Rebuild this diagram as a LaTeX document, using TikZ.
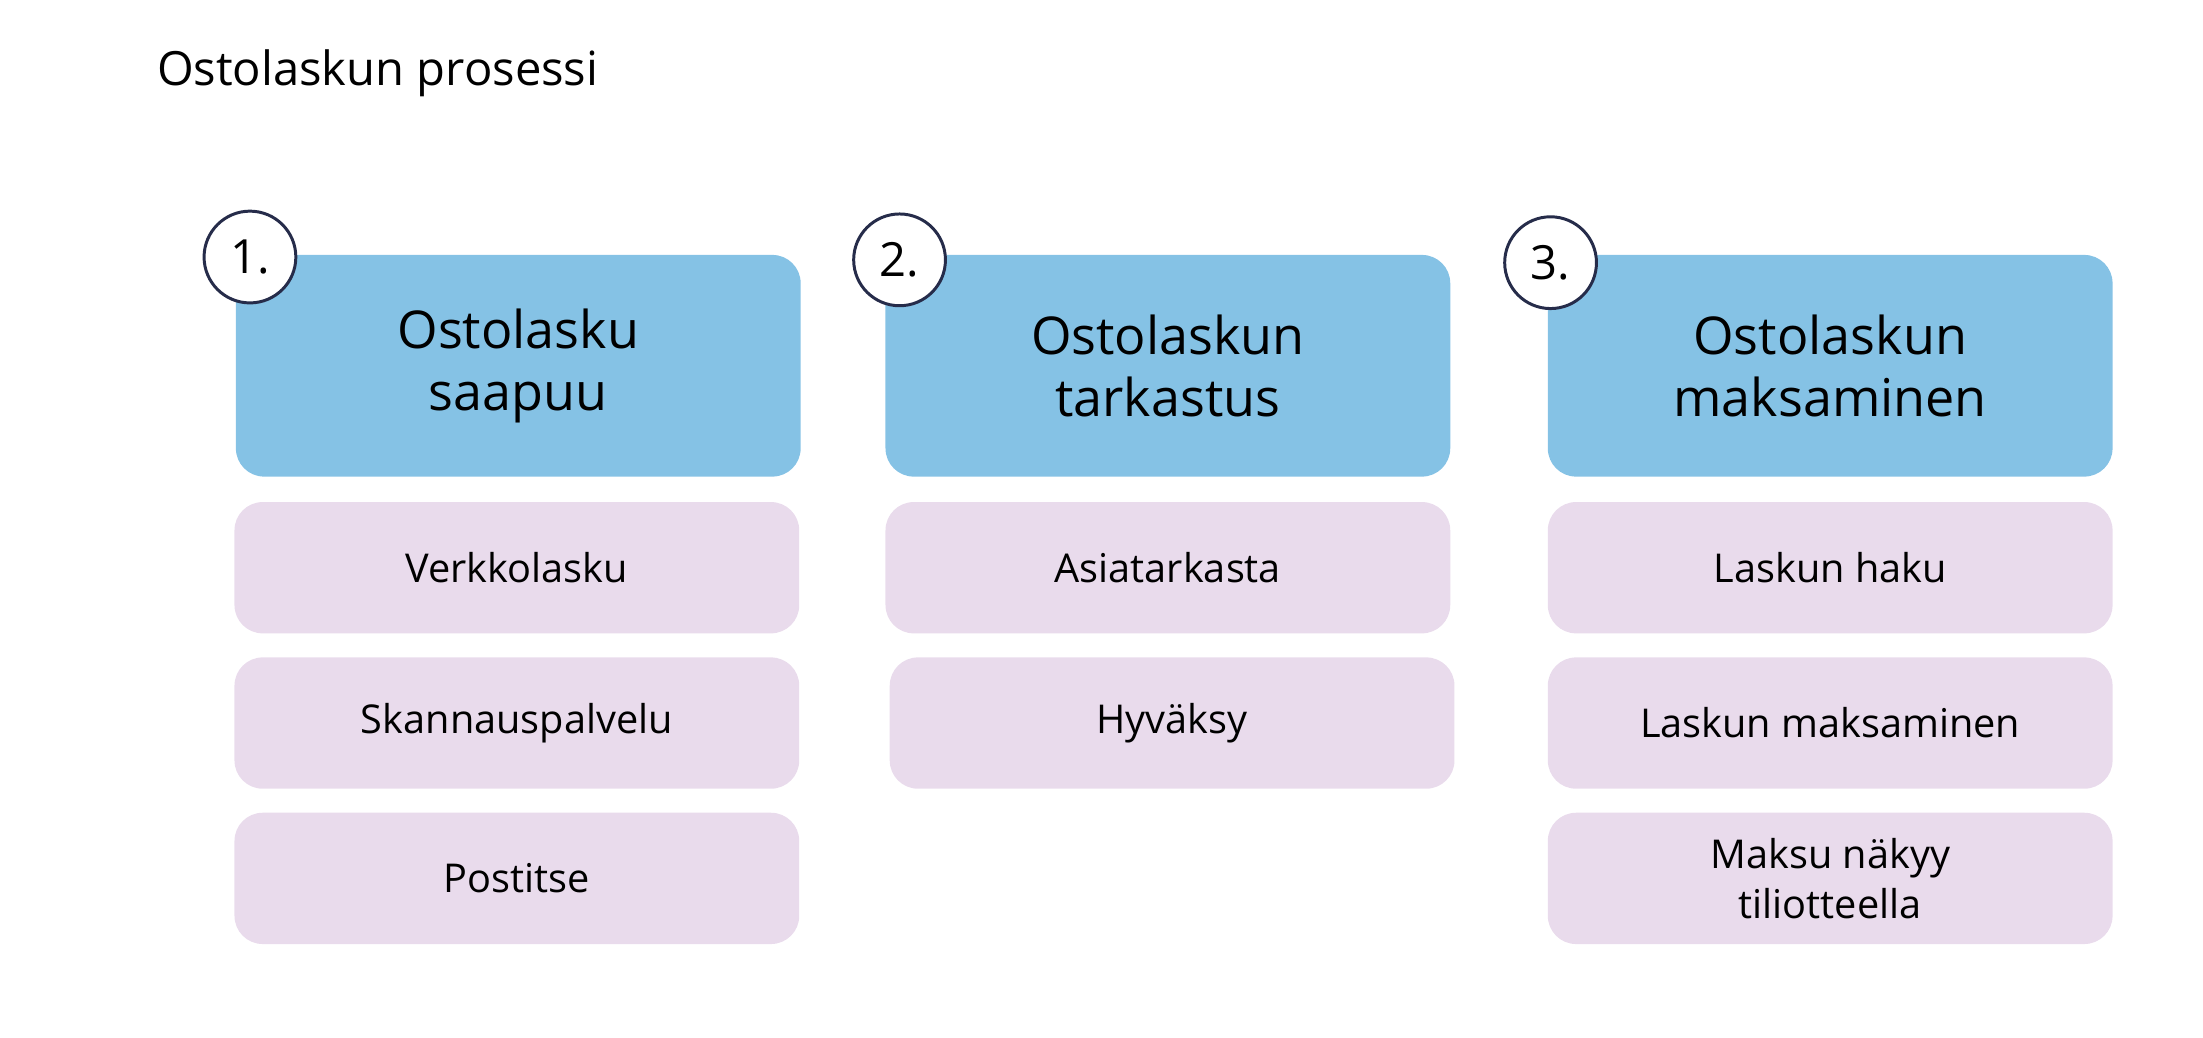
\documentclass[tikz,border=0pt]{standalone}
\usepackage{fontspec}
\setmainfont{Open Sans}
\usetikzlibrary{positioning}
\definecolor{headblue}{HTML}{85C2E5}
\definecolor{steppink}{HTML}{E9DBEC}
\definecolor{navy}{HTML}{262C4A}
\begin{document}
\begin{tikzpicture}[x=0.02cm,y=-0.02cm,
    head/.style={rectangle,rounded corners=0.4cm,fill=headblue,minimum width=8cm,minimum height=3.14cm,align=center,font=\fontsize{21}{25}\selectfont},
    task/.style={rectangle,rounded corners=0.4cm,fill=steppink,minimum width=8cm,minimum height=1.86cm,align=center,font=\fontsize{16}{20}\selectfont},
    num/.style={circle,draw=navy,line width=1.2pt,fill=white,minimum size=1.3cm,inner sep=0pt,font=\fontsize{19}{22}\selectfont}]
    \useasboundingbox (0,0) rectangle (1560,735);
    \node[anchor=west,font=\fontsize{19}{22}\selectfont] (T) at (105,52) {Ostolaskun prosessi};

    \node[head] (H1) at (367,259) {Ostolasku\\saapuu};
    \node[head] (H2) at (827,259) {Ostolaskun\\tarkastus};
    \node[head] (H3) at (1296,259) {Ostolaskun\\maksaminen};

    \node[num] (C1) at (177,182) {1.};
    \node[num] (C2) at (637,184) {2.};
    \node[num] (C3) at (1098,186) {3.};

    \node[task] (V1) at (366,402) {Verkkolasku};
    \node[task] (S1) at (366,512) {Skannauspalvelu};
    \node[task] (P1) at (366,622) {Postitse};

    \node[task] (A2) at (827,402) {Asiatarkasta};
    \node[task] (Y2) at (830,512) {Hyväksy};

    \node[task] (L3) at (1296,402) {Laskun haku};
    \node[task] (M3) at (1296,512) {Laskun maksaminen};
    \node[task] (N3) at (1296,622) {Maksu näkyy\\tiliotteella};
\end{tikzpicture}
\end{document}
